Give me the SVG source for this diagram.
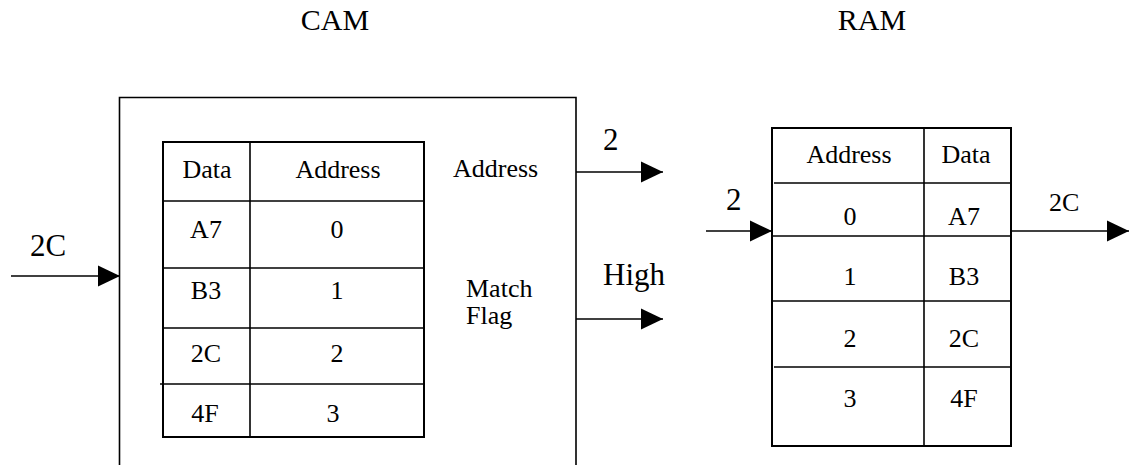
<svg xmlns="http://www.w3.org/2000/svg" width="1133" height="465" viewBox="0 0 1133 465">
  <style>
    text { font-family: "Liberation Serif", Tinos, "Times New Roman", Times, "Noto Serif", "DejaVu Serif", serif; fill: #000; }
    .t26 { font-size: 26px; }
    .t31 { font-size: 31px; }
    .t30 { font-size: 30px; }
    .mid { text-anchor: middle; }
    .ln { stroke: #000; stroke-width: 1.6; fill: none; }
    .box { stroke: #000; stroke-width: 2; fill: #fff; }
  </style>
  <defs>
    <marker id="arrow" markerUnits="userSpaceOnUse" markerWidth="22" markerHeight="22" viewBox="0 0 21 20" refX="21" refY="10" orient="auto">
      <path d="M0,0 L21,10 L0,20 Z" fill="#000"/>
    </marker>
  </defs>
  <rect width="1133" height="465" fill="#fff"/>

  <!-- titles -->
  <text class="t30 mid" x="335" y="30">CAM</text>
  <text class="t30 mid" x="872" y="30">RAM</text>

  <!-- CAM block: open-bottom outer frame with lookup table -->
  <g id="cam">
    <path class="ln" d="M119.5,465 V97.5 H576 V465"/>
    <g id="cam-table">
      <rect class="box" x="163" y="142" width="261" height="295"/>
      <line class="ln" x1="250" y1="142" x2="250" y2="438"/>
      <line class="ln" x1="163" y1="201" x2="424" y2="201"/>
      <line class="ln" x1="163" y1="268" x2="424" y2="268"/>
      <line class="ln" x1="163" y1="328" x2="424" y2="328"/>
      <line class="ln" x1="160" y1="384" x2="424" y2="384"/>
      <text class="t26 mid" x="207" y="178">Data</text>
      <text class="t26 mid" x="338" y="178">Address</text>
      <text class="t26 mid" x="206" y="238">A7</text>
      <text class="t26 mid" x="337" y="238">0</text>
      <text class="t26 mid" x="206" y="299">B3</text>
      <text class="t26 mid" x="337" y="299">1</text>
      <text class="t26 mid" x="206" y="362">2C</text>
      <text class="t26 mid" x="337" y="362">2</text>
      <text class="t26 mid" x="205" y="422">4F</text>
      <text class="t26 mid" x="333" y="422">3</text>
    </g>
    <text class="t26" x="453" y="177">Address</text>
    <text class="t26" x="466" y="297">Match</text>
    <text class="t26" x="466" y="324">Flag</text>
  </g>

  <!-- RAM block -->
  <g id="ram">
    <rect class="box" x="772" y="128" width="239" height="318"/>
    <line class="ln" x1="924" y1="128" x2="924" y2="446"/>
    <line class="ln" x1="774" y1="183" x2="1011" y2="183"/>
    <line class="ln" x1="772" y1="236" x2="1011" y2="236"/>
    <line class="ln" x1="772" y1="301" x2="1011" y2="301"/>
    <line class="ln" x1="774" y1="367" x2="1011" y2="367"/>
    <text class="t26 mid" x="849" y="163">Address</text>
    <text class="t26 mid" x="966" y="163">Data</text>
    <text class="t26 mid" x="850" y="225">0</text>
    <text class="t26 mid" x="964" y="225">A7</text>
    <text class="t26 mid" x="850" y="285">1</text>
    <text class="t26 mid" x="964" y="285">B3</text>
    <text class="t26 mid" x="850" y="347">2</text>
    <text class="t26 mid" x="964" y="347">2C</text>
    <text class="t26 mid" x="850" y="407">3</text>
    <text class="t26 mid" x="964" y="407">4F</text>
  </g>

  <!-- connectors -->
  <g id="connectors">
    <line class="ln" x1="11" y1="276" x2="120" y2="276" marker-end="url(#arrow)"/>
    <line class="ln" x1="576" y1="172" x2="663" y2="172" marker-end="url(#arrow)"/>
    <line class="ln" x1="576" y1="319" x2="663" y2="319" marker-end="url(#arrow)"/>
    <line class="ln" x1="706" y1="231" x2="772" y2="231" marker-end="url(#arrow)"/>
    <line class="ln" x1="1011" y1="231" x2="1129" y2="231" marker-end="url(#arrow)"/>
    <text class="t31" x="30" y="256">2C</text>
    <text class="t31" x="603" y="150">2</text>
    <text class="t31" x="603" y="285">High</text>
    <text class="t31" x="726" y="210">2</text>
    <text class="t26" x="1049" y="211">2C</text>
  </g>
</svg>
